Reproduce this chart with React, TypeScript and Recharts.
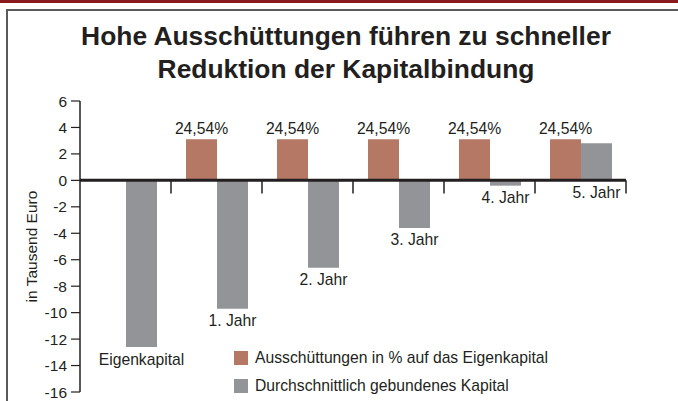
import React from "react";
import {
  BarChart, Bar, XAxis, YAxis, ReferenceLine, LabelList,
} from "recharts";

const CATEGORIES = ["Eigenkapital", "1. Jahr", "2. Jahr", "3. Jahr", "4. Jahr", "5. Jahr"];
const AUSSCHUETTUNG = [null, 3.1, 3.1, 3.1, 3.1, 3.1];
const AUSSCHUETTUNG_LABELS = ["", "24,54%", "24,54%", "24,54%", "24,54%", "24,54%"];
const KAPITAL = [-12.6, -9.7, -6.6, -3.6, -0.4, 2.8];
const Y_TICKS = [6, 4, 2, 0, -2, -4, -6, -8, -10, -12, -14, -16];

const SERIES_NAMES = [
  "Ausschüttungen in % auf das Eigenkapital",
  "Durchschnittlich gebundenes Kapital",
];
const COLORS = ["#b47864", "#929497"];

const FONT = '"Liberation Sans", Arial, Helvetica, sans-serif';
const TEXT = "#231f20";

const data = CATEGORIES.map((name, i) => ({
  name,
  aus: AUSSCHUETTUNG[i],
  pct: AUSSCHUETTUNG_LABELS[i],
  kap: KAPITAL[i],
}));

const GrayLabel = (props: any) => {
  const vb = props.viewBox ?? props;
  const { x, y, width, height } = vb;
  const bottom = Math.max(y, y + height);
  return (
    <text
      x={x + width / 2}
      y={bottom + 12}
      textAnchor="middle"
      dominantBaseline="central"
      fontSize={15.7}
      fontFamily={FONT}
      fill={TEXT}
    >
      {props.value}
    </text>
  );
};

const AxisTitle = (props: any) => {
  const vb = props.viewBox;
  const cx = 31;
  const cy = vb.y + vb.height / 2;
  return (
    <text
      x={cx}
      y={cy}
      transform={`rotate(-90 ${cx} ${cy})`}
      textAnchor="middle"
      dominantBaseline="central"
      fontSize={15.5}
      fontFamily={FONT}
      fill={TEXT}
    >
      in Tausend Euro
    </text>
  );
};

// short ticks below the zero line at the category boundaries
const boundaryTicks = [
  ...CATEGORIES.slice(1).map((c) => ({ cat: c, pos: "start" as const })),
  { cat: CATEGORIES[CATEGORIES.length - 1], pos: "end" as const },
];

export default function App() {
  return (
    <div style={{ position: "absolute", left: 0, top: 0, width: 678, height: 401, background: "#fff", fontFamily: FONT }}>
      <div style={{ position: "absolute", left: 0, top: 0, width: 678, height: 3, background: "#8b1a1f" }} />
      <div
        style={{
          position: "absolute", left: 6, top: 9, width: 672, height: 392,
          borderTop: "2px solid #5a5a5a", borderLeft: "2px solid #5a5a5a", boxSizing: "border-box",
        }}
      />
      <div
        style={{
          position: "absolute", left: 0, top: 20, width: 692, textAlign: "center",
          fontSize: 26.4, fontWeight: "bold", lineHeight: "33px", color: TEXT,
        }}
      >
        Hohe Ausschüttungen führen zu schneller
        <br />
        Reduktion der Kapitalbindung
      </div>

      <BarChart
        width={678}
        height={401}
        data={data}
        margin={{ top: 101, right: 52, bottom: 9, left: 0 }}
        barSize={31}
        barGap={0}
        style={{ position: "absolute", left: 0, top: 0 }}
      >
        <XAxis dataKey="name" hide />
        <YAxis
          width={80}
          domain={[-16, 6]}
          ticks={Y_TICKS}
          interval={0}
          tickSize={9}
          tickMargin={4}
          axisLine={{ stroke: TEXT, strokeWidth: 1.5 }}
          tickLine={{ stroke: TEXT, strokeWidth: 1.2 }}
          tick={{ fontSize: 15.5, fontFamily: FONT, fill: TEXT }}
          label={<AxisTitle />}
        />
        <Bar dataKey="aus" fill={COLORS[0]} isAnimationActive={false}>
          <LabelList dataKey="pct" position="top" offset={5} fontSize={15.7} fontFamily={FONT} fill={TEXT} />
        </Bar>
        <Bar dataKey="kap" fill={COLORS[1]} isAnimationActive={false}>
          <LabelList dataKey="name" content={<GrayLabel />} />
        </Bar>
        <ReferenceLine y={0} stroke={TEXT} strokeWidth={3} />
        {boundaryTicks.map((t, i) => (
          <ReferenceLine
            key={i}
            position={t.pos}
            segment={[{ x: t.cat, y: 0 }, { x: t.cat, y: -1 }]}
            stroke={TEXT}
            strokeWidth={1.5}
          />
        ))}
      </BarChart>

      <div style={{ position: "absolute", left: 234, top: 351 }}>
        {SERIES_NAMES.map((n, i) => (
          <div key={n} style={{ display: "flex", alignItems: "center", height: 14, marginBottom: 14 }}>
            <div style={{ width: 14, height: 14, background: COLORS[i], marginRight: 7 }} />
            <span style={{ fontSize: 15.7, color: TEXT, whiteSpace: "nowrap" }}>{n}</span>
          </div>
        ))}
      </div>
    </div>
  );
}
